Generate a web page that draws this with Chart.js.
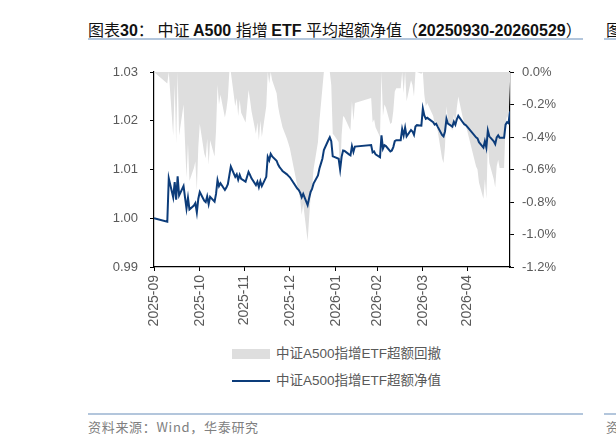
<!DOCTYPE html>
<html>
<head>
<meta charset="utf-8">
<script src="https://cdn.jsdelivr.net/npm/chart.js@4.4.1/dist/chart.umd.min.js"></script>
<style>
  html, body { margin: 0; padding: 0; background: #fff; }
  body { width: 616px; height: 444px; overflow: hidden; position: relative;
         font-family: "Liberation Sans", Arial, "Noto Sans CJK SC", sans-serif; }
  #title { position: absolute; left: 88px; top: 19px; font-size: 16px; color: #111; white-space: nowrap; line-height: 20px; }
  #title b { font-weight: bold; }
  #title .cj { font-family: "Noto Sans CJK SC", sans-serif; font-weight: 400; }
  .rule { position: absolute; height: 2px; background: #b3c6dc; }
  #chartBox { position: absolute; left: 0; top: 0; width: 616px; height: 345px; }
  #legend { position: absolute; left: 232px; top: 343px; font-size: 13.5px; color: #595959; }
  .lg { position: relative; height: 27px; white-space: nowrap; }
  .lg .sw { position: absolute; left: 0; }
  .lg .tx { position: absolute; left: 44px; top: 2px; line-height: 18px; font-family: "Liberation Sans", Arial, "Noto Sans CJK SC", sans-serif; }
  #source { position: absolute; left: 88px; top: 417px; font-size: 13px; letter-spacing: 0.7px; color: #808080; white-space: nowrap; font-family: "Noto Sans CJK SC", sans-serif; }
  .frag { position: absolute; white-space: nowrap; }
</style>
</head>
<body>
<div id="title"><span class="cj">图表</span><b>30</b><span class="cj">：&nbsp;中证 </span><b>A500 </b><span class="cj">指增 </span><b>ETF </b><span class="cj">平均超额净值（</span><b>20250930-20260529</b><span class="cj">）</span></div>
<div class="rule" style="left:88px; top:38px; width:495px;"></div>
<div class="frag" style="left:606px; top:19px; font-size:16px; line-height:20px; color:#111; font-family:'Noto Sans CJK SC',sans-serif;">图表31：</div>
<div class="rule" style="left:604px; top:38px; width:20px;"></div>

<div id="chartBox"><canvas id="c" width="616" height="345"></canvas></div>
<div id="legend"></div>

<div class="rule" style="left:88px; top:413px; width:495px;"></div>
<div id="source">资料来源：Wind，华泰研究</div>
<div class="rule" style="left:604px; top:413px; width:20px;"></div>
<div class="frag" style="left:606px; top:417px; font-size:13px; color:#808080; font-family:'Noto Sans CJK SC',sans-serif;">资料来源</div>

<script>
// ---- data ----
const seriesLabels = ["中证A500指增ETF超额回撤", "中证A500指增ETF超额净值"];

const dates = [
  "2025-09-30",
  "2025-10-09","2025-10-10","2025-10-13","2025-10-14","2025-10-15","2025-10-16","2025-10-17",
  "2025-10-20","2025-10-21","2025-10-22","2025-10-23","2025-10-24","2025-10-27","2025-10-28",
  "2025-10-29","2025-10-30","2025-10-31",
  "2025-11-03","2025-11-04","2025-11-05","2025-11-06","2025-11-07","2025-11-10","2025-11-11",
  "2025-11-12","2025-11-13","2025-11-14","2025-11-17","2025-11-18","2025-11-19","2025-11-20",
  "2025-11-21","2025-11-24","2025-11-25","2025-11-26","2025-11-27","2025-11-28",
  "2025-12-01","2025-12-02","2025-12-03","2025-12-04","2025-12-05","2025-12-08","2025-12-09",
  "2025-12-10","2025-12-11","2025-12-12","2025-12-15","2025-12-16","2025-12-17","2025-12-18",
  "2025-12-19","2025-12-22","2025-12-23","2025-12-24","2025-12-25","2025-12-26","2025-12-29",
  "2025-12-30","2025-12-31",
  "2026-01-05","2026-01-06","2026-01-07","2026-01-08","2026-01-09","2026-01-12","2026-01-13",
  "2026-01-14","2026-01-15","2026-01-16","2026-01-19","2026-01-20","2026-01-21","2026-01-22",
  "2026-01-23","2026-01-26","2026-01-27","2026-01-28","2026-01-29","2026-01-30",
  "2026-02-02","2026-02-03","2026-02-04","2026-02-05","2026-02-06","2026-02-09","2026-02-10",
  "2026-02-11","2026-02-12","2026-02-13","2026-02-24","2026-02-25","2026-02-26","2026-02-27",
  "2026-03-02","2026-03-03","2026-03-04","2026-03-05","2026-03-06","2026-03-09","2026-03-10",
  "2026-03-11","2026-03-12","2026-03-13","2026-03-16","2026-03-17","2026-03-18","2026-03-19",
  "2026-03-20","2026-03-23","2026-03-24","2026-03-25","2026-03-26","2026-03-27","2026-03-30",
  "2026-03-31",
  "2026-04-01","2026-04-02","2026-04-03","2026-04-07","2026-04-08","2026-04-09","2026-04-10",
  "2026-04-13","2026-04-14","2026-04-15","2026-04-16","2026-04-17","2026-04-20","2026-04-21",
  "2026-04-22","2026-04-23","2026-04-24","2026-04-27","2026-04-28","2026-04-29","2026-04-30",
  "2026-05-06","2026-05-07","2026-05-08","2026-05-11","2026-05-12","2026-05-13","2026-05-14",
  "2026-05-15","2026-05-18","2026-05-19","2026-05-20","2026-05-21","2026-05-22","2026-05-25",
  "2026-05-26","2026-05-27","2026-05-28","2026-05-29"
];

// excess net value (left axis)
const navValues = [
  1.0000,
  0.9993,1.0082,1.0043,1.0074,1.0038,1.0086,1.0047,
  1.0066,1.0043,1.0020,1.0042,1.0018,1.0026,1.0031,
  1.0012,1.0040,1.0054,
  1.0036,1.0033,1.0045,1.0029,1.0044,1.0034,1.0050,
  1.0078,1.0066,1.0072,1.0058,1.0063,1.0070,1.0088,
  1.0106,1.0085,1.0090,1.0079,1.0089,1.0081,
  1.0075,1.0085,1.0095,1.0089,1.0082,1.0068,1.0075,
  1.0064,1.0076,1.0066,1.0085,1.0126,1.0119,1.0132,
  1.0127,1.0118,1.0110,1.0105,1.0101,1.0097,1.0090,
  1.0087,1.0084,
  1.0061,1.0058,1.0052,1.0043,1.0050,1.0027,1.0041,
  1.0054,1.0060,1.0071,1.0088,1.0102,1.0112,1.0122,
  1.0140,1.0160,1.0166,1.0158,1.0127,1.0126,
  1.0122,1.0100,1.0126,1.0139,1.0138,1.0131,1.0129,
  1.0148,1.0136,1.0147,1.0150,1.0135,1.0137,1.0131,
  1.0125,1.0170,1.0143,1.0150,1.0148,1.0137,1.0139,
  1.0146,1.0158,1.0160,1.0160,1.0183,1.0170,1.0186,
  1.0168,1.0181,1.0178,1.0171,1.0188,1.0191,1.0190,
  1.0225,
  1.0211,1.0204,1.0206,1.0197,1.0192,1.0194,1.0188,
  1.0171,1.0168,1.0178,1.0204,1.0194,1.0188,1.0198,
  1.0192,1.0203,1.0210,1.0197,1.0193,1.0191,1.0188,
  1.0166,1.0164,1.0156,1.0145,1.0158,1.0145,1.0180,
  1.0168,1.0158,1.0152,1.0166,1.0170,1.0165,1.0165,
  1.0192,1.0197,1.0195,1.0219
];

// excess drawdown, % (right axis)
const drawdownValues = [
  0.00,
  -0.07,0.00,-0.39,-0.08,-0.44,0.00,-0.39,
  -0.20,-0.43,-0.65,-0.44,-0.67,-0.59,-0.55,
  -0.73,-0.46,-0.32,
  -0.50,-0.53,-0.41,-0.57,-0.42,-0.52,-0.36,
  -0.08,-0.20,-0.14,-0.28,-0.23,-0.16,0.00,
  0.00,-0.21,-0.16,-0.27,-0.17,-0.25,
  -0.31,-0.21,-0.11,-0.17,-0.24,-0.38,-0.31,
  -0.42,-0.30,-0.40,-0.21,0.00,-0.07,0.00,
  -0.05,-0.13,-0.21,-0.26,-0.30,-0.34,-0.41,
  -0.44,-0.47,
  -0.70,-0.73,-0.79,-0.88,-0.81,-1.04,-0.90,
  -0.77,-0.71,-0.60,-0.43,-0.30,-0.20,-0.10,
  0.00,0.00,0.00,-0.08,-0.38,-0.39,
  -0.43,-0.65,-0.39,-0.27,-0.28,-0.34,-0.36,
  -0.18,-0.30,-0.19,-0.16,-0.31,-0.29,-0.34,
  -0.40,0.00,-0.27,-0.20,-0.22,-0.32,-0.31,
  -0.24,-0.12,-0.10,-0.10,0.00,-0.13,0.00,
  -0.18,-0.05,-0.08,-0.15,0.00,0.00,-0.01,
  0.00,
  -0.14,-0.21,-0.19,-0.27,-0.32,-0.30,-0.36,
  -0.53,-0.56,-0.46,-0.21,-0.30,-0.36,-0.26,
  -0.32,-0.22,-0.15,-0.28,-0.31,-0.33,-0.36,
  -0.58,-0.60,-0.68,-0.78,-0.66,-0.78,-0.44,
  -0.56,-0.66,-0.71,-0.58,-0.54,-0.59,-0.59,
  -0.32,-0.27,-0.29,-0.06
];

// x-axis tick labels and the dates they sit on
const tickLabels = ["2025-09","2025-10","2025-11","2025-12","2026-01","2026-02","2026-03","2026-04"];
const tickDates  = ["2025-09-30","2025-10-31","2025-11-30","2025-12-31","2026-01-31","2026-02-28","2026-03-31","2026-04-30"];

// ---- build chart ----
const DAY = 86400000;
const t0 = Date.parse(dates[0]);
const toDay = d => Math.round((Date.parse(d) - t0) / DAY);
const xs = dates.map(toDay);
const tickDays = tickDates.map(toDay);

const navPts = xs.map((x, i) => ({ x: x, y: navValues[i] }));
const ddPts = xs.map((x, i) => ({ x: x, y: drawdownValues[i] }));

const FONT = { family: "'Liberation Sans', Arial, sans-serif", size: 13 };
const XFONT = { family: "'Liberation Sans', Arial, sans-serif", size: 14 };
const TICKCOL = '#595959';
const NAVCOL = '#0c3c7a';
const DDCOL = '#dedede';

const chart = new Chart(document.getElementById('c'), {
  type: 'line',
  data: {
    datasets: [
      { label: seriesLabels[1], data: navPts, yAxisID: 'y', borderColor: NAVCOL, backgroundColor: NAVCOL,
        borderWidth: 2, pointRadius: 0, tension: 0, fill: false, order: 0 },
      { label: seriesLabels[0], data: ddPts, yAxisID: 'y1', borderColor: DDCOL, backgroundColor: DDCOL,
        borderWidth: 0, pointRadius: 0, tension: 0, fill: 'end', order: 1 }
    ]
  },
  options: {
    responsive: false,
    animation: false,
    layout: { padding: { top: 72, left: 0, right: 0, bottom: 0 } },
    plugins: { legend: { display: false }, tooltip: { enabled: false }, title: { display: false } },
    scales: {
      x: {
        type: 'linear',
        min: 0,
        max: xs[xs.length - 1],
        afterBuildTicks: s => { s.ticks = tickDays.map(v => ({ value: v })); },
        afterFit: s => { s.height = 78; },
        ticks: {
          autoSkip: false, maxRotation: 90, minRotation: 90, padding: 4,
          color: TICKCOL, font: XFONT,
          callback: (v, i) => tickLabels[i]
        },
        grid: { drawOnChartArea: false, drawTicks: true, tickLength: 4, tickColor: '#000', color: '#000' },
        border: { display: true, color: '#000', width: 1.2 }
      },
      y: {
        position: 'left',
        min: 0.99, max: 1.03,
        afterFit: s => { s.width = 154; },
        ticks: { stepSize: 0.01, padding: 12, color: TICKCOL, font: FONT, callback: v => Number(v).toFixed(2) },
        grid: { drawOnChartArea: false, drawTicks: true, tickLength: 4, tickColor: '#000', color: '#000' },
        border: { display: true, color: '#000', width: 1.2 }
      },
      y1: {
        position: 'right',
        min: -1.2, max: 0,
        afterFit: s => { s.width = 106; },
        ticks: { stepSize: 0.2, padding: 8, color: TICKCOL, font: FONT, callback: v => Number(v).toFixed(1) + '%' },
        grid: { drawOnChartArea: false, drawTicks: true, tickLength: 4, tickColor: '#000', color: '#000' },
        border: { display: true, color: '#000', width: 1.2 }
      }
    }
  }
});

// ---- HTML legend built from the chart's datasets ----
const legend = document.getElementById('legend');
const legendOrder = [1, 0];
legendOrder.forEach(idx => {
  const ds = chart.data.datasets[idx];
  const row = document.createElement('div');
  row.className = 'lg';
  const sw = document.createElement('div');
  sw.className = 'sw';
  if (idx === 1) {
    sw.style.cssText = 'top:6px;width:38px;height:10px;background:' + ds.backgroundColor;
  } else {
    sw.style.cssText = 'top:10px;width:38px;height:2px;background:' + ds.borderColor;
  }
  const tx = document.createElement('div');
  tx.className = 'tx';
  tx.textContent = ds.label;
  row.appendChild(sw);
  row.appendChild(tx);
  legend.appendChild(row);
});
</script>
</body>
</html>
